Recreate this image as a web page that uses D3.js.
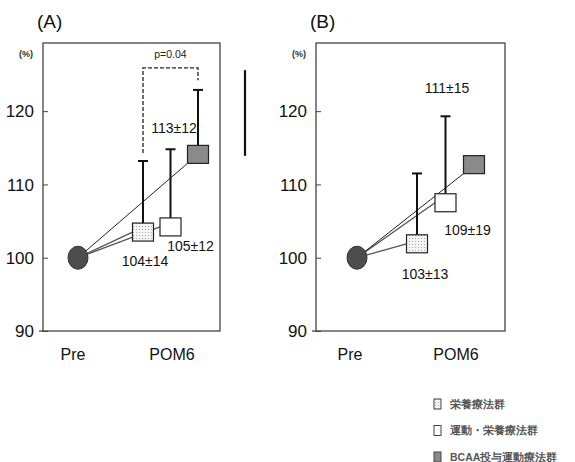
<!DOCTYPE html>
<html>
<head>
<meta charset="utf-8">
<script src="https://cdn.jsdelivr.net/npm/d3@7"></script>
<style>
  body { margin: 0; background: #fff; }
  text { font-family: "Liberation Sans", Arial, sans-serif; }
</style>
</head>
<body>
<div id="chart"></div>
<script>
// data
var timePoints = ["Pre", "POM6"];
var groups = ["栄養療法群", "運動・栄養療法群", "BCAA投与運動療法群"];
var yTicks = [90, 100, 110, 120];
var preValue = 100;
// panel A
var meanA = [103.5, 104.2, 114.1];
var capA = [113.2, 114.8, 122.9];
var labelA = ["104±14", "105±12", "113±12"];
// panel B
var meanB = [101.9, 107.5, 112.7];
var capB = [111.5, 119.3, null];
var labelB = ["103±13", "109±19", "111±15"];
// significance bracket in panel A (from group 0 to group 2)
var bracketA = { top: 125.9, left: 114.3, right: 124.2, text: "p=0.04" };

var svgWidth = 575, svgHeight = 462;
var svg = d3.select("#chart").append("svg")
  .attr("width", svgWidth)
  .attr("height", svgHeight);

var defs = svg.append("defs");
var pat = defs.append("pattern")
  .attr("id", "dots")
  .attr("width", 3).attr("height", 3)
  .attr("patternUnits", "userSpaceOnUse");
pat.append("rect").attr("width", 3).attr("height", 3).attr("fill", "#f4f4f4");
pat.append("rect").attr("x", 1).attr("y", 1).attr("width", 1).attr("height", 1).attr("fill", "#aaa");

var fills = ["url(#dots)", "#fff", "#8a8a8a"];

var yScale = d3.scaleLinear().domain([90, 129.3]).range([331, 43]);

// label offsets (px) from square centre
var labelOffA = [[2, 29], [20, 19], [-24, -26]];
var labelOffB = [[8, 30], [22, 27], [-27, -77]];

function drawPanel(cfg) {
  var g = svg.append("g");
  var x = d3.scalePoint().domain(timePoints).range(cfg.timeRange);
  var dodge = d3.scalePoint().domain(groups).range(cfg.dodgeRange);
  var xPos = function (i) { return x("POM6") + dodge(groups[i]); };

  // frame
  g.append("rect")
    .attr("x", cfg.left).attr("y", yScale.range()[1])
    .attr("width", cfg.right - cfg.left)
    .attr("height", yScale.range()[0] - yScale.range()[1])
    .attr("fill", "none").attr("stroke", "#444").attr("stroke-width", 1.3);

  // y axis
  var yAxis = d3.axisRight(yScale).tickValues(yTicks).tickSize(5).tickFormat("");
  var ay = g.append("g").attr("transform", "translate(" + cfg.left + ",0)").call(yAxis);
  ay.select(".domain").remove();
  ay.selectAll("line").attr("stroke", "#444");
  g.selectAll(".ylab").data(yTicks).enter().append("text")
    .attr("x", cfg.left - 9).attr("y", d => yScale(d))
    .attr("dy", "0.36em").attr("text-anchor", "end")
    .attr("font-size", 17).attr("fill", "#111")
    .text(d => d);
  g.append("line")
    .attr("x1", cfg.left - 4).attr("x2", cfg.left)
    .attr("y1", yScale(90)).attr("y2", yScale(90))
    .attr("stroke", "#444").attr("stroke-width", 1.3);

  g.append("text").attr("x", cfg.left - 10).attr("y", 57)
    .attr("text-anchor", "end").attr("font-size", 9).attr("font-weight", "bold")
    .attr("fill", "#333").text("(%)");
  g.append("text").attr("x", cfg.left - 6).attr("y", 28)
    .attr("font-size", 19).attr("fill", "#111").text(cfg.title);

  // x labels
  g.selectAll(".xlab").data(timePoints).enter().append("text")
    .attr("x", (d, i) => x(d) + cfg.xLabShift[i]).attr("y", 360)
    .attr("text-anchor", "middle").attr("font-size", 16).attr("fill", "#111")
    .text(d => d);

  // connecting lines
  var cx = x("Pre"), cy = yScale(preValue);
  var sqW = 21, sqH = 18;
  cfg.means.forEach(function (m, i) {
    var tx = xPos(i) - sqW / 2;
    var ty = i === 2 ? yScale(m) + sqH / 2 : yScale(m);
    g.append("line")
      .attr("x1", cx).attr("y1", cy).attr("x2", tx).attr("y2", ty)
      .attr("stroke", i === 2 ? "#222" : "#555").attr("stroke-width", i === 2 ? 1 : 1.3);
  });

  // error bars
  cfg.caps.forEach(function (c, i) {
    if (c === null) return;
    var xx = xPos(i);
    g.append("line").attr("x1", xx).attr("x2", xx)
      .attr("y1", yScale(cfg.means[i]) - sqH / 2).attr("y2", yScale(c))
      .attr("stroke", "#111").attr("stroke-width", 2);
    g.append("line").attr("x1", xx - 5).attr("x2", xx + 5)
      .attr("y1", yScale(c)).attr("y2", yScale(c))
      .attr("stroke", "#111").attr("stroke-width", 2);
  });

  // squares
  g.selectAll(".sq").data(cfg.means).enter().append("rect")
    .attr("x", (d, i) => xPos(i) - sqW / 2)
    .attr("y", d => yScale(d) - sqH / 2)
    .attr("width", sqW).attr("height", sqH)
    .attr("fill", (d, i) => fills[i])
    .attr("stroke", "#222").attr("stroke-width", 1.2);

  // pre circle
  g.append("ellipse").attr("cx", cx).attr("cy", cy)
    .attr("rx", 10).attr("ry", 11.5)
    .attr("fill", "#4d4d4d").attr("stroke", "#333");

  // value labels
  cfg.labels.forEach(function (t, i) {
    g.append("text")
      .attr("x", xPos(i) + cfg.labelOff[i][0])
      .attr("y", yScale(cfg.means[i]) + cfg.labelOff[i][1])
      .attr("dy", "0.35em").attr("text-anchor", "middle")
      .attr("font-size", 14).attr("fill", "#111")
      .text(t);
  });

  return { xPos: xPos };
}

var pA = drawPanel({
  title: "(A)", left: 43, right: 220,
  timeRange: [78, 170], dodgeRange: [-27, 28], xLabShift: [-5, 2],
  means: meanA, caps: capA, labels: labelA, labelOff: labelOffA
});

drawPanel({
  title: "(B)", left: 316, right: 505,
  timeRange: [357, 460], dodgeRange: [-43, 14], xLabShift: [-7, -4],
  means: meanB, caps: capB, labels: labelB, labelOff: labelOffB
});

// bracket
var bx1 = pA.xPos(0), bx2 = pA.xPos(2);
svg.append("path")
  .attr("d", "M" + bx1 + "," + yScale(bracketA.left) +
    "V" + yScale(bracketA.top) + "H" + bx2 + "V" + yScale(bracketA.right))
  .attr("fill", "none").attr("stroke", "#222").attr("stroke-width", 1.3)
  .attr("stroke-dasharray", "4,2");
svg.append("text").attr("x", (bx1 + bx2) / 2).attr("y", 58)
  .attr("text-anchor", "middle").attr("font-size", 10.5).attr("fill", "#222")
  .text(bracketA.text);

// stray vertical bar to the right of panel A
svg.append("line").attr("x1", 245).attr("x2", 245)
  .attr("y1", yScale(125.6)).attr("y2", yScale(113.9))
  .attr("stroke", "#111").attr("stroke-width", 2.2);

// legend
var legend = svg.append("g").attr("transform", "translate(434,404)");
var lg = legend.selectAll("g").data(groups).enter().append("g")
  .attr("transform", (d, i) => "translate(0," + (i * 26.5) + ")");
lg.append("rect").attr("x", 0).attr("y", -5).attr("width", 7).attr("height", 10)
  .attr("fill", (d, i) => fills[i]).attr("stroke", "#444").attr("stroke-width", 1);
lg.append("text").attr("x", 16).attr("y", 0).attr("dy", "0.35em")
  .attr("font-size", 10.5).attr("font-weight", "bold").attr("fill", "#555")
  .attr("font-family", "'Noto Sans CJK JP', sans-serif")
  .text(d => d);
</script>
</body>
</html>
